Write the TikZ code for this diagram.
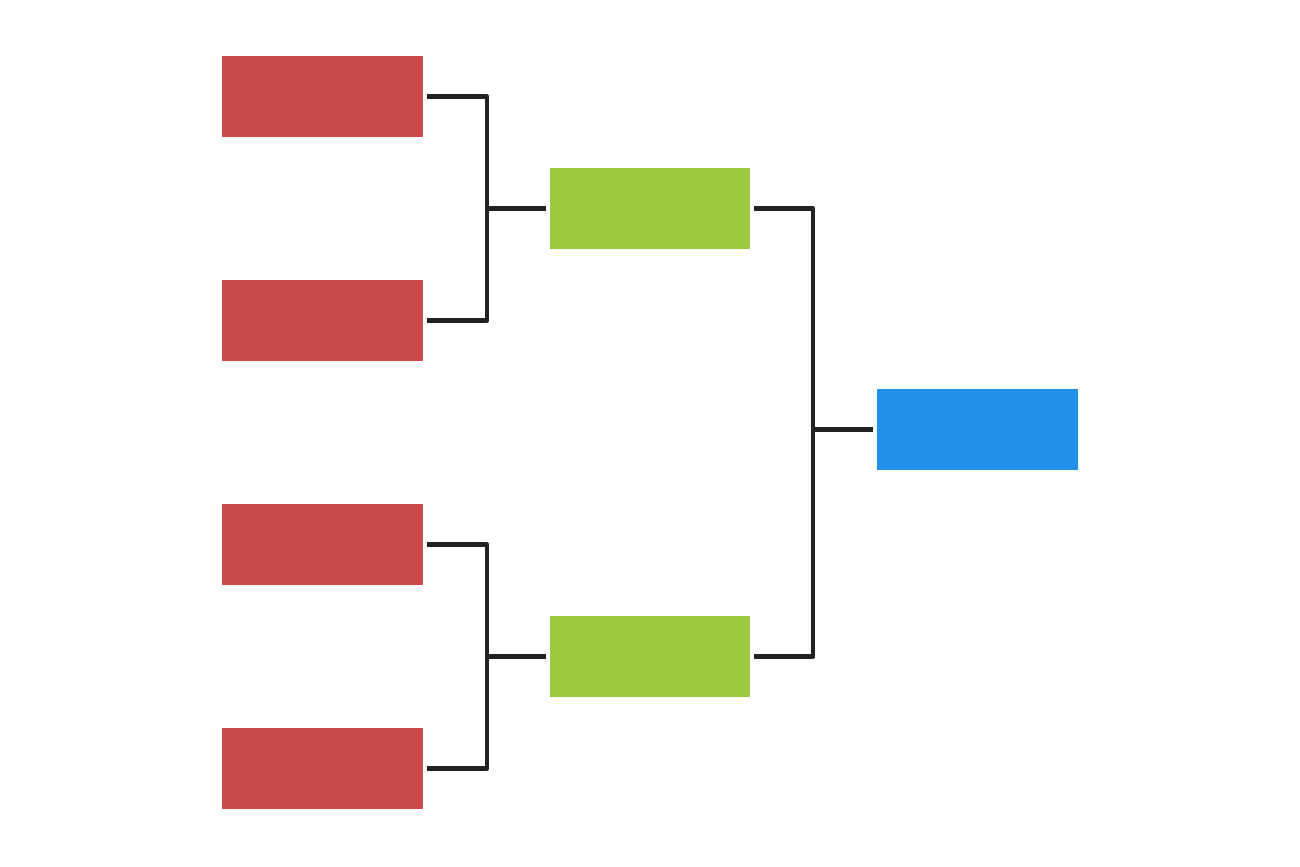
\documentclass[tikz,border=0pt]{standalone}
\usepackage{tikz}
\usetikzlibrary{positioning, calc}
\definecolor{roundred}{RGB}{204, 73, 74}
\definecolor{semigreen}{RGB}{155, 200, 62}
\definecolor{finalblue}{RGB}{35, 145, 233}
\definecolor{linkgray}{RGB}{34, 34, 34}
\tikzset{
  slot/.style={rectangle, minimum width=4.02cm, minimum height=1.62cm, inner sep=0pt},
  bracket/.style={draw=linkgray, line width=0.09cm, line join=round}
}
\begin{document}
\begin{tikzpicture}[x=0.02cm, y=-0.02cm]
  \useasboundingbox (0,0) rectangle (1300,866);
  \node[slot, fill=roundred] (r1) at (322.5, 96.5) {};
  \node[slot, fill=roundred] (r2) at (322.5, 320.5) {};
  \node[slot, fill=roundred] (r3) at (322.5, 544.5) {};
  \node[slot, fill=roundred] (r4) at (322.5, 768.5) {};
  \node[slot, fill=semigreen] (g1) at (650, 208.5) {};
  \node[slot, fill=semigreen] (g2) at (650, 656.5) {};
  \node[slot, fill=finalblue] (w) at (977, 429.5) {};
  \coordinate (j1) at (487, 208.5);
  \coordinate (j2) at (487, 656.5);
  \coordinate (j3) at (813, 429.5);
  \draw[bracket, shorten <=2pt] (r1.east) -| (j1);
  \draw[bracket, shorten <=2pt] (r2.east) -| (j1);
  \draw[bracket, shorten >=2pt] (j1) -- (g1.west);
  \draw[bracket, shorten <=2pt] (r3.east) -| (j2);
  \draw[bracket, shorten <=2pt] (r4.east) -| (j2);
  \draw[bracket, shorten >=2pt] (j2) -- (g2.west);
  \draw[bracket, shorten <=2pt] (g1.east) -| (j3);
  \draw[bracket, shorten <=2pt] (g2.east) -| (j3);
  \draw[bracket, shorten >=2pt] (j3) -- (w.west);
\end{tikzpicture}
\end{document}
